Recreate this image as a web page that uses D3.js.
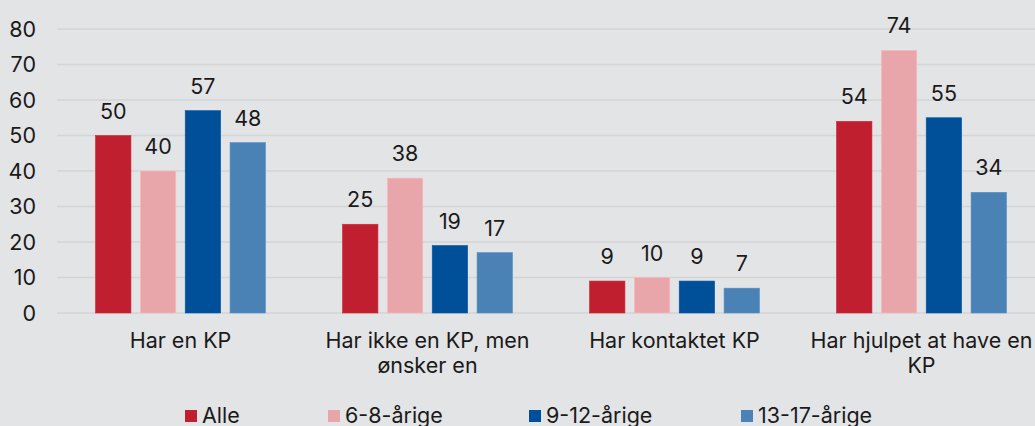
<!DOCTYPE html>
<html>
<head>
<meta charset="utf-8">
<script src="https://cdn.jsdelivr.net/npm/d3@7"></script>
<style>
  html, body { margin: 0; padding: 0; background: #e3e4e6; }
  svg { display: block; font-family: Inter, "Noto Sans", sans-serif; }
</style>
</head>
<body>
<svg id="chart"></svg>
<script>
const categories = ["Har en KP", "Har ikke en KP, men ønsker en", "Har kontaktet KP", "Har hjulpet at have en KP"];
const seriesNames = ["Alle", "6-8-årige", "9-12-årige", "13-17-årige"];
const alle = [50, 25, 9, 54];
const age6to8 = [40, 38, 10, 74];
const age9to12 = [57, 19, 9, 55];
const age13to17 = [48, 17, 7, 34];
const yTicks = [0, 10, 20, 30, 40, 50, 60, 70, 80];
const colors = ["#c01f30", "#e8a6ab", "#004f99", "#4a82b5"];

const series = [alle, age6to8, age9to12, age13to17];

const width = 1035;
const height = 426;
const fontSize = 21.5;

const svg = d3.select('#chart')
    .attr('width', width)
    .attr('height', height);

const x = d3.scaleBand()
    .domain(categories)
    .range([57, 1045])
    .paddingInner(0)
    .paddingOuter(0);

const y = d3.scaleLinear()
    .domain([0, 80])
    .range([313, 29]);

const xInner = d3.scaleBand()
    .domain(seriesNames)
    .range([0, 170])
    .paddingInner(0.21);

// gridlines
svg.append('g')
  .selectAll('line')
  .data(yTicks)
  .join('line')
    .attr('x1', 57)
    .attr('x2', width)
    .attr('y1', d => y(d))
    .attr('y2', d => y(d))
    .attr('stroke', '#d3d4d6')
    .attr('stroke-width', 1.3);

// y tick labels
svg.append('g')
  .selectAll('text')
  .data(yTicks)
  .join('text')
    .attr('x', 36)
    .attr('y', d => y(d))
    .attr('dy', '0.35em')
    .attr('text-anchor', 'end')
    .attr('font-size', fontSize)
    .attr('fill', '#1a1a1a')
    .text(d => d);

// bars
const groups = svg.append('g')
  .selectAll('g')
  .data(categories)
  .join('g')
    .attr('transform', d => `translate(${x(d) + x.bandwidth() / 2 - 85},0)`);

groups.each(function(cat, ci) {
  const g = d3.select(this);
  const rows = seriesNames.map((name, si) => ({ name, value: series[si][ci], color: colors[si] }));
  g.selectAll('rect')
    .data(rows)
    .join('rect')
      .attr('x', d => xInner(d.name))
      .attr('width', xInner.bandwidth())
      .attr('y', d => y(d.value))
      .attr('height', d => y(0) - y(d.value))
      .attr('fill', d => d.color)
      .attr('stroke', d => d3.color(d.color).brighter(0.3))
      .attr('stroke-width', 0.6);
  g.selectAll('text')
    .data(rows)
    .join('text')
      .attr('x', d => xInner(d.name) + xInner.bandwidth() / 2)
      .attr('y', d => y(d.value) - 17)
      .attr('text-anchor', 'middle')
      .attr('font-size', fontSize)
      .attr('fill', '#1a1a1a')
      .text(d => d.value);
});

// category labels with wrapping
function wrapLines(text, maxWidth) {
  const tmp = svg.append('text').attr('font-size', fontSize);
  const words = text.split(' ');
  const lines = [];
  let line = [];
  words.forEach(w => {
    line.push(w);
    tmp.text(line.join(' '));
    if (tmp.node().getComputedTextLength() > maxWidth && line.length > 1) {
      line.pop();
      lines.push(line.join(' '));
      line = [w];
    }
  });
  lines.push(line.join(' '));
  tmp.remove();
  return lines;
}

const catLabels = svg.append('g')
  .selectAll('text')
  .data(categories)
  .join('text')
    .attr('text-anchor', 'middle')
    .attr('font-size', fontSize)
    .attr('fill', '#1a1a1a');

catLabels.each(function(d) {
  const lines = wrapLines(d, 235);
  const t = d3.select(this);
  lines.forEach((l, i) => {
    t.append('tspan')
      .attr('x', x(d) + x.bandwidth() / 2)
      .attr('y', 348 + i * 25)
      .text(l);
  });
});

// legend
const legendX = [185, 328, 529, 741];
const legend = svg.append('g')
  .selectAll('g')
  .data(seriesNames)
  .join('g')
    .attr('transform', (d, i) => `translate(${legendX[i]},0)`);

legend.append('rect')
    .attr('x', 0)
    .attr('y', 410)
    .attr('width', 12)
    .attr('height', 12)
    .attr('fill', (d, i) => colors[i]);

legend.append('text')
    .attr('x', 17)
    .attr('y', 423)
    .attr('font-size', fontSize)
    .attr('fill', '#1a1a1a')
    .text(d => d);
</script>
</body>
</html>
